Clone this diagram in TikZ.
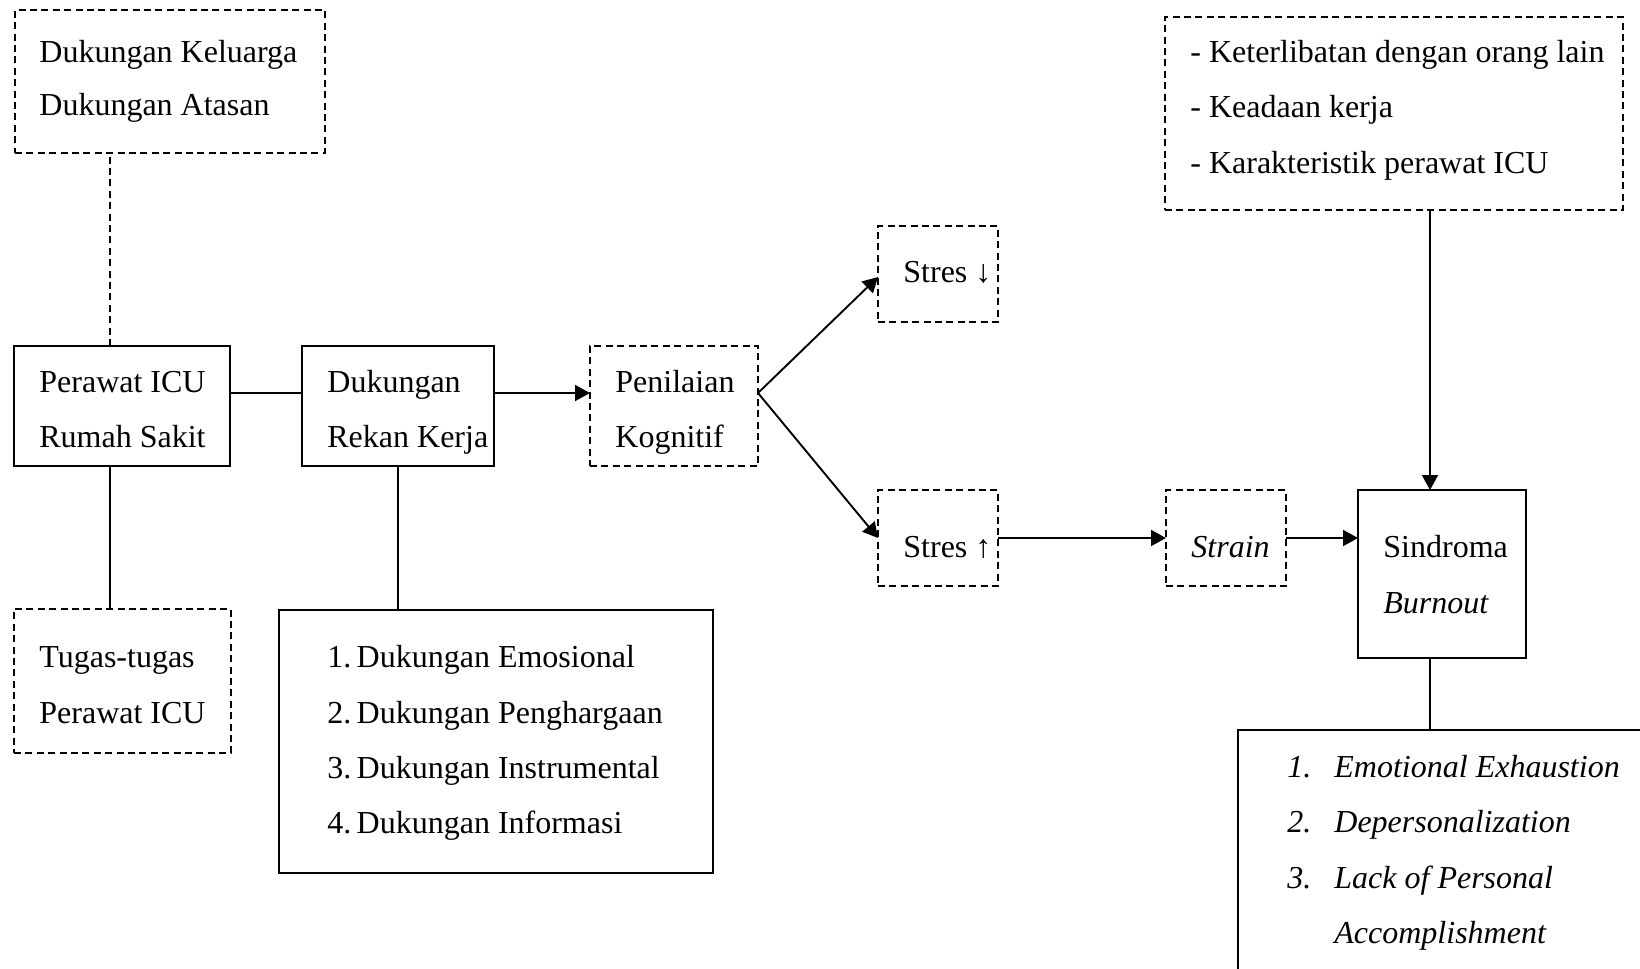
\documentclass[tikz,border=0pt]{standalone}
\usepackage{fontspec}
\setmainfont{Liberation Serif}
\usetikzlibrary{arrows.meta}
\begin{document}
\begin{tikzpicture}[x=0.5pt,y=-0.5pt,
  bx/.style={draw, line width=0.95pt, anchor=north west, inner sep=0pt, outer sep=0pt},
  dbx/.style={bx, dash pattern=on 3.5pt off 2.2pt},
  txt/.style={anchor=base west, inner sep=0pt, font=\fontsize{16}{19}\selectfont},
  conn/.style={line width=0.95pt},
  dconn/.style={conn, dash pattern=on 3.5pt off 2.2pt},
  arr/.style={conn, -{Triangle[length=7.5pt,width=8pt]}},
]
\useasboundingbox (0,0) rectangle (1640,969);
\clip (0,0) rectangle (1640,969);
\fill[white] (0,0) rectangle (1640,969);

% boxes
\node[dbx, minimum width=155pt, minimum height=71.5pt] (a) at (15,10) {};
\node[bx, minimum width=108pt, minimum height=60pt] (p) at (14,346) {};
\node[bx, minimum width=96pt, minimum height=60pt] (d) at (302,346) {};
\node[dbx, minimum width=84pt, minimum height=60pt] (k) at (590,346) {};
\node[dbx, minimum width=60pt, minimum height=48pt] (s1) at (878,226) {};
\node[dbx, minimum width=60pt, minimum height=48pt] (s2) at (878,490) {};
\node[dbx, minimum width=60pt, minimum height=48pt] (str) at (1166,490) {};
\node[bx, minimum width=84pt, minimum height=84pt] (sin) at (1358,490) {};
\node[dbx, minimum width=229pt, minimum height=96.5pt] (r) at (1165,17) {};
\node[dbx, minimum width=108.5pt, minimum height=72pt] (t) at (14,609) {};
\node[bx, minimum width=217pt, minimum height=131.5pt] (l) at (279,610) {};
\node[bx, minimum width=250pt, minimum height=150pt] (b) at (1238,730) {};

% texts
\node[txt] (a1) at (39,62) {Dukungan Keluarga};
\node[txt] (a2) at (39,115) {Dukungan Atasan};
\node[txt] (p1) at (39,392) {Perawat ICU};
\node[txt] (p2) at (39,447) {Rumah Sakit};
\node[txt] (d1) at (327,392) {Dukungan};
\node[txt] (d2) at (327,447) {Rekan Kerja};
\node[txt] (k1) at (615,392) {Penilaian};
\node[txt] (k2) at (615,447) {Kognitif};
\node[txt] (s1t) at (903,282) {Stres ↓};
\node[txt] (s2t) at (903,557) {Stres ↑};
\node[txt] (strt) at (1191,557) {\itshape Strain};
\node[txt] (sin1) at (1383,557) {Sindroma};
\node[txt] (sin2) at (1383,613) {\itshape Burnout};
\node[txt] (r1) at (1190,62) {- Keterlibatan dengan orang lain};
\node[txt] (r2) at (1190,117) {- Keadaan kerja};
\node[txt] (r3) at (1190,173) {- Karakteristik perawat ICU};
\node[txt] (t1) at (39,667) {Tugas-tugas};
\node[txt] (t2) at (39,723) {Perawat ICU};
\node[txt] (l1) at (327,667) {1.\,Dukungan Emosional};
\node[txt] (l2) at (327,723) {2.\,Dukungan Penghargaan};
\node[txt] (l3) at (327,778) {3.\,Dukungan Instrumental};
\node[txt] (l4) at (327,833) {4.\,Dukungan Informasi};
\node[txt] (b1n) at (1287,777) {\itshape 1.};
\node[txt] (b1) at (1334,777) {\itshape Emotional Exhaustion};
\node[txt] (b2n) at (1287,832) {\itshape 2.};
\node[txt] (b2) at (1334,832) {\itshape Depersonalization};
\node[txt] (b3n) at (1287,888) {\itshape 3.};
\node[txt] (b3) at (1334,888) {\itshape Lack of Personal};
\node[txt] (b4) at (1334,943) {\itshape Accomplishment};

% connectors
\draw[dconn] ([xshift=-6pt]p.north) -- ([xshift=-6pt]p.north |- a.south);
\draw[conn] ([xshift=-6pt]p.south) -- ([xshift=-6pt]p.south |- t.north);
\draw[conn] ([yshift=6.5pt]p.east) -- ([yshift=6.5pt]p.east -| d.west);
\draw[conn] (d.south) -- (d.south |- l.north);
\draw[arr] ([yshift=6.5pt]d.east) -- ([yshift=6.5pt]d.east -| k.west);
\draw[arr] ([yshift=6.5pt]k.east) -- ([yshift=-1.5pt]s1.west);
\draw[arr] ([yshift=6.5pt]k.east) -- (s2.west);
\draw[arr] (s2.east) -- (str.west);
\draw[arr] (str.east) -- (str.east -| sin.west);
\draw[arr] ([xshift=18pt]r.south) -- ([xshift=18pt]r.south |- sin.north);
\draw[conn] ([xshift=-6pt]sin.south) -- ([xshift=-6pt]sin.south |- b.north);
\end{tikzpicture}
\end{document}
